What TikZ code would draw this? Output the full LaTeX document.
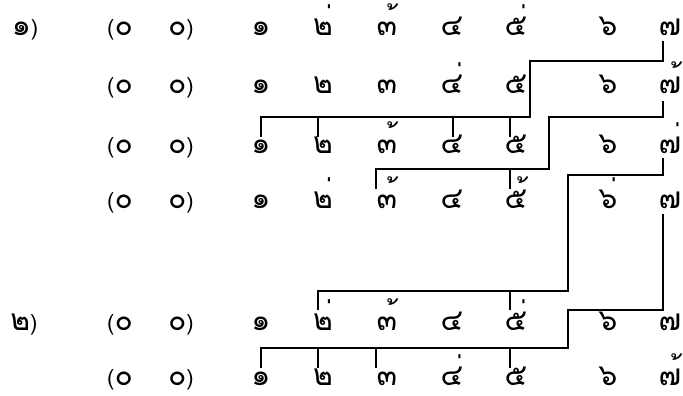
\documentclass[tikz,border=0pt]{standalone}
\usepackage{fontspec}
\newfontfamily\thaifont[Script=Thai]{Loma}
\newcommand\pr[1]{{\fontsize{22}{26}\selectfont #1}}

\tikzset{
  dig/.style={font=\thaifont\fontsize{30}{34}\selectfont, anchor=base, inner sep=0pt, text depth=0pt},
  link/.style={line width=1.5pt}
}

% one row: name, baseline, seven digits
\newcommand\thairow[3]{%
  \node[dig] (#1l) at (120,#2) {\pr{(}๐};
  \node[dig] (#1r) at (181,#2) {๐\pr{)}};
  \foreach \t [count=\i] in {#3} {
    \pgfmathsetmacro\xx{{261,323,387,452,516,608,670}[\i-1]}
    \node[dig] (#1d\i) at (\xx,#2) {\t};
  }%
}

\begin{document}
\begin{tikzpicture}[x=1pt, y=-1pt]
        \useasboundingbox (0,0) rectangle (683,396);
        \node[dig] (lab1) at (25,36) {๑\pr{)}};
        \node[dig] (lab2) at (24,330) {๒\pr{)}};
        \thairow{r1}{36}{๑,๒่,๓้,๔,๕่,๖,๗}
        \thairow{r2}{94}{๑,๒,๓,๔่,๕,๖,๗้}
        \thairow{r3}{153}{๑,๒,๓้,๔,๕,๖,๗่}
        \thairow{r4}{208}{๑,๒่,๓้,๔,๕้,๖่,๗}
        \thairow{r5}{330}{๑,๒่,๓้,๔,๕่,๖,๗}
        \thairow{r6}{385}{๑,๒,๓,๔่,๕,๖,๗้}
        % row 1 -> row 3
        \draw[link] (663,41) |- (530,61) |- (261,117) -- ++(0,20);
        \foreach \x in {318,453,510} \draw[link] (\x,117) -- ++(0,20);
        % row 2 -> row 4
        \draw[link] (663,101) |- (549,117) |- (376,169) -- ++(0,20);
        \draw[link] (510,169) -- ++(0,20);
        % row 3 -> row 5
        \draw[link] (663,158) |- (568,175) |- (318,291) -- ++(0,19);
        \draw[link] (510,291) -- ++(0,19);
        % row 4 -> row 6
        \draw[link] (663,214) |- (568,310) |- (261,348) -- ++(0,20);
        \foreach \x in {318,376,510} \draw[link] (\x,348) -- ++(0,20);
\end{tikzpicture}
\end{document}
